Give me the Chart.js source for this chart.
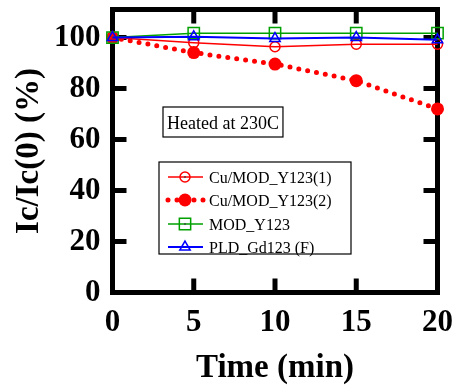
<!DOCTYPE html>
<html><head><meta charset="utf-8">
<script src="https://cdn.jsdelivr.net/npm/chart.js@4.4.1/dist/chart.umd.min.js"></script>
<style>html,body{margin:0;padding:0;background:#fff}#wrap{width:460px;height:387px}</style>
</head><body><div id="wrap"><canvas id="c" width="460" height="387"></canvas></div>
<script>
const timeMin = [0, 5, 10, 15, 20];
const cuModY123_1 = [100, 98, 96.4, 97.4, 97.4];
const cuModY123_2 = [100, 94.1, 89.6, 83.1, 72.0];
const modY123 = [100, 101.7, 101.7, 101.7, 101.7];
const pldGd123 = [100, 100.3, 99.6, 100, 99.1];
const seriesLabels = ['Cu/MOD_Y123(1)', 'Cu/MOD_Y123(2)', 'MOD_Y123', 'PLD_Gd123 (F)'];
const xTicks = [0, 5, 10, 15, 20];
const yTicks = [0, 20, 40, 60, 80, 100];
const noteText = 'Heated at 230C';

const RED = '#ff0000', GREEN = '#00a000', BLUE = '#0000ff';
const pts = (ys) => timeMin.map((x, i) => ({x, y: ys[i]}));
const SERIF = '"Liberation Serif", "Times New Roman", serif';

const datasets = [
  {label: seriesLabels[0], data: pts(cuModY123_1), borderColor: RED, backgroundColor: 'rgba(0,0,0,0)',
   borderWidth: 1.5, pointStyle: 'circle', pointRadius: 5, pointBorderWidth: 1.5, pointBorderColor: RED,
   pointBackgroundColor: 'rgba(0,0,0,0)', clip: false, order: 3},
  {label: seriesLabels[1], data: pts(cuModY123_2), borderColor: RED, backgroundColor: RED,
   borderWidth: 5, borderDash: [0, 9], borderCapStyle: 'round', pointStyle: 'circle', pointRadius: 6.5,
   pointBorderWidth: 0, pointBackgroundColor: RED, clip: false, order: 2},
  {label: seriesLabels[2], data: pts(modY123), borderColor: GREEN, backgroundColor: 'rgba(0,0,0,0)',
   borderWidth: 1.5, pointStyle: 'rect', pointRadius: 8, pointBorderWidth: 1.5, pointBorderColor: GREEN,
   pointBackgroundColor: 'rgba(0,0,0,0)', clip: false, order: 1},
  {label: seriesLabels[3], data: pts(pldGd123), borderColor: BLUE, backgroundColor: 'rgba(0,0,0,0)',
   borderWidth: 2, pointStyle: 'triangle', pointRadius: 6, pointBorderWidth: 1.5, pointBorderColor: BLUE,
   pointBackgroundColor: 'rgba(0,0,0,0)', clip: false, order: 0}
];

const framePlugin = {
  id: 'frame',
  beforeDatasetsDraw(chart) {
    const {ctx, chartArea: a, scales: {x, y}} = chart;
    ctx.save();
    ctx.strokeStyle = '#000';
    ctx.lineWidth = 5;
    ctx.lineCap = 'butt';
    ctx.strokeRect(a.left, a.top, a.right - a.left, a.bottom - a.top);
    const L = 14;
    ctx.beginPath();
    xTicks.forEach(v => {
      const px = x.getPixelForValue(v);
      if (Math.abs(px - a.left) < 3 || Math.abs(px - a.right) < 3) return;
      ctx.moveTo(px, a.bottom); ctx.lineTo(px, a.bottom - L);
      ctx.moveTo(px, a.top); ctx.lineTo(px, a.top + L);
    });
    yTicks.forEach(v => {
      const py = y.getPixelForValue(v);
      if (Math.abs(py - a.bottom) < 3 || Math.abs(py - a.top) < 3) return;
      ctx.moveTo(a.left, py); ctx.lineTo(a.left + L, py);
      ctx.moveTo(a.right, py); ctx.lineTo(a.right - L, py);
    });
    ctx.stroke();
    ctx.restore();
  },
  afterDatasetsDraw(chart) {
    const {ctx, chartArea: a} = chart;
    ctx.save();
    ctx.font = '18px ' + SERIF;
    ctx.strokeStyle = '#000';
    ctx.lineWidth = 1.2;
    const nx = Math.round(a.left + 50), ny = Math.round(a.top + 97);
    const tw = ctx.measureText(noteText).width;
    ctx.fillStyle = '#fff';
    ctx.fillRect(nx, ny, tw + 8, 30);
    ctx.strokeRect(nx, ny, tw + 8, 30);
    ctx.fillStyle = '#000';
    ctx.textBaseline = 'alphabetic';
    ctx.fillText(noteText, nx + 4, ny + 22);
    const lx = Math.round(a.left + 46), ly = Math.round(a.top + 152), lw = 192, lh = 92;
    ctx.fillStyle = '#fff';
    ctx.fillRect(lx, ly, lw, lh);
    ctx.lineWidth = 1.2;
    ctx.strokeRect(lx, ly, lw, lh);
    ctx.font = '16px ' + SERIF;
    chart.data.datasets.forEach((ds, i) => {
      const cy = ly + 15 + Math.round(i * 23.4);
      const x0 = lx + 9, x1 = lx + 44, mx = lx + 26;
      ctx.save();
      ctx.strokeStyle = ds.borderColor;
      ctx.lineWidth = ds.borderWidth;
      if (ds.borderDash) { ctx.setLineDash(ds.borderDash); ctx.lineCap = 'round'; }
      ctx.beginPath(); ctx.moveTo(x0, cy); ctx.lineTo(mx, cy); ctx.stroke();
      ctx.beginPath(); ctx.moveTo(x1, cy); ctx.lineTo(mx, cy); ctx.stroke();
      ctx.restore();
      ctx.save();
      ctx.fillStyle = ds.pointBackgroundColor;
      ctx.strokeStyle = ds.pointBorderColor || ds.borderColor;
      ctx.lineWidth = ds.pointBorderWidth || 1;
      Chart.helpers.drawPoint(ctx, {pointStyle: ds.pointStyle, radius: ds.pointRadius, borderWidth: ds.pointBorderWidth, rotation: 0}, mx, cy);
      ctx.restore();
      if (ds.pointBorderWidth && ds.pointStyle !== 'triangle') {
        ctx.fillStyle = '#333';
        ctx.fillRect(mx - 0.75, cy - 0.75, 1.5, 1.5);
      }
      ctx.fillStyle = '#000';
      ctx.textBaseline = 'alphabetic';
      ctx.fillText(ds.label, lx + 50, cy + 6);
    });
    ctx.restore();
  }
};

new Chart(document.getElementById('c'), {
  type: 'line',
  data: {datasets},
  options: {
    responsive: false,
    animation: false,
    devicePixelRatio: 1,
    layout: {padding: {left: 0, right: 22.5, top: 8.5, bottom: 0}},
    plugins: {legend: {display: false}, tooltip: {enabled: false}},
    scales: {
      x: {
        type: 'linear', min: 0, max: 20,
        afterBuildTicks: s => { s.ticks = xTicks.map(v => ({value: v})); },
        afterFit: s => { s.height = 94.5; s.paddingLeft = 0; s.paddingRight = 0; },
        grid: {display: false, drawTicks: false}, border: {display: false},
        ticks: {color: '#000', padding: 12, font: {family: SERIF, size: 31, weight: 'bold'}, maxRotation: 0},
        title: {display: true, text: 'Time (min)', color: '#000', padding: {top: 0, bottom: -1},
                font: {family: SERIF, size: 33, weight: 'bold'}}
      },
      y: {
        type: 'linear', min: 0, max: 111,
        afterBuildTicks: s => { s.ticks = yTicks.map(v => ({value: v})); },
        afterFit: s => { s.width = 112.5; s.paddingTop = 0; s.paddingBottom = 0; },
        grid: {display: false, drawTicks: false}, border: {display: false},
        ticks: {color: '#000', padding: 12, font: {family: SERIF, size: 31, weight: 'bold'}},
        title: {display: true, text: 'Ic/Ic(0) (%)', color: '#000', padding: {top: 10, bottom: 0},
                font: {family: SERIF, size: 33, weight: 'bold'}}
      }
    }
  },
  plugins: [framePlugin]
});
</script></body></html>
